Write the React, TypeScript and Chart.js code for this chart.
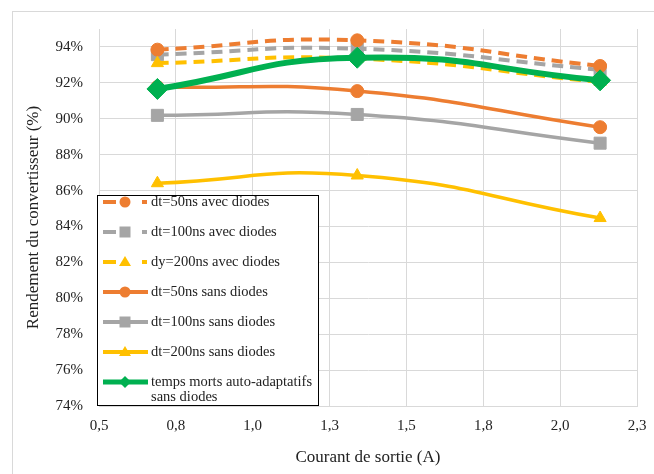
import React, { useEffect, useRef } from "react";
import { Chart, registerables } from "chart.js";

Chart.register(...registerables);

const currents = [0.69, 1.34, 2.13];
const dt50Avec = [93.85, 94.37, 92.94];
const dt100Avec = [93.57, 93.9, 92.73];
const dy200Avec = [93.1, 93.35, 92.05];
const dt50Sans = [91.77, 91.54, 89.53];
const dt100Sans = [90.19, 90.24, 88.64];
const dt200Sans = [86.41, 86.84, 84.47];
const autoAdapt = [91.66, 93.4, 92.14];

const yTicks = [74, 76, 78, 80, 82, 84, 86, 88, 90, 92, 94];
const xTicks = [0.5, 0.75, 1.0, 1.25, 1.5, 1.75, 2.0, 2.25];

const ORANGE = "#ED7D31";
const GRAY = "#A5A5A5";
const YELLOW = "#FFC000";
const GREEN = "#00B050";
const FONT = "'Liberation Serif', 'Times New Roman', serif";

type S = {
  label: string[];
  values: number[];
  color: string;
  dashed: boolean;
  style: string;
  radius: number;
  width: number;
  order: number;
};

const series: S[] = [
  { label: ["dt=50ns avec diodes"], values: dt50Avec, color: ORANGE, dashed: true, style: "circle", radius: 6.5, width: 4, order: 6 },
  { label: ["dt=100ns avec diodes"], values: dt100Avec, color: GRAY, dashed: true, style: "rect", radius: 8.5, width: 4, order: 7 },
  { label: ["dy=200ns avec diodes"], values: dy200Avec, color: YELLOW, dashed: true, style: "triangle", radius: 7, width: 4, order: 5 },
  { label: ["dt=50ns sans diodes"], values: dt50Sans, color: ORANGE, dashed: false, style: "circle", radius: 6.5, width: 3.5, order: 4 },
  { label: ["dt=100ns sans diodes"], values: dt100Sans, color: GRAY, dashed: false, style: "rect", radius: 8.5, width: 3.5, order: 3 },
  { label: ["dt=200ns sans diodes"], values: dt200Sans, color: YELLOW, dashed: false, style: "triangle", radius: 7, width: 3.5, order: 2 },
  { label: ["temps morts auto-adaptatifs", "sans diodes"], values: autoAdapt, color: GREEN, dashed: false, style: "rectRot", radius: 10.5, width: 6, order: 0 },
];

const legendPlugin = {
  id: "customLegend",
  afterDraw(chart: any) {
    const ctx = chart.ctx as CanvasRenderingContext2D;
    ctx.save();
    ctx.strokeStyle = "#d9d9d9";
    ctx.lineWidth = 1;
    ctx.strokeRect(12.5, 11.5, 700, 500);
    const bx = 97.5, by = 195.5, bw = 221, bh = 210;
    ctx.fillStyle = "#ffffff";
    ctx.fillRect(bx, by, bw, bh);
    ctx.strokeStyle = "#000000";
    ctx.lineWidth = 1;
    ctx.strokeRect(bx, by, bw, bh);
    ctx.font = `14.5px ${FONT}`;
    ctx.textBaseline = "middle";
    series.forEach((s, i) => {
      const y = 202 + i * 30;
      ctx.strokeStyle = s.color;
      ctx.fillStyle = s.color;
      ctx.lineWidth = s.dashed ? 4 : s.style === "rectRot" ? 5 : 4;
      ctx.lineCap = "butt";
      ctx.beginPath();
      if (s.dashed) {
        ctx.moveTo(103, y);
        ctx.lineTo(116, y);
        ctx.moveTo(142, y);
        ctx.lineTo(147, y);
      } else {
        ctx.moveTo(103, y);
        ctx.lineTo(148, y);
      }
      ctx.stroke();
      const mx = 125;
      ctx.beginPath();
      if (s.style === "circle") {
        ctx.arc(mx, y, 5.5, 0, Math.PI * 2);
      } else if (s.style === "rect") {
        ctx.rect(mx - 5.5, y - 5.5, 11, 11);
      } else if (s.style === "triangle") {
        ctx.moveTo(mx, y - 6);
        ctx.lineTo(mx + 6, y + 4);
        ctx.lineTo(mx - 6, y + 4);
        ctx.closePath();
      } else {
        ctx.moveTo(mx, y - 6);
        ctx.lineTo(mx + 6, y);
        ctx.lineTo(mx, y + 6);
        ctx.lineTo(mx - 6, y);
        ctx.closePath();
      }
      ctx.fill();
      ctx.fillStyle = "#222";
      s.label.forEach((t, k) => ctx.fillText(t, 151, y + k * 15));
    });
    ctx.restore();
  },
};

export default function App() {
  const ref = useRef<HTMLCanvasElement>(null);
  useEffect(() => {
    if (!ref.current) return;
    const chart = new Chart(ref.current, {
      type: "line",
      data: {
        datasets: series.map((s) => ({
          label: s.label.join(" "),
          data: currents.map((x, i) => ({ x, y: s.values[i] })),
          borderColor: s.color,
          backgroundColor: s.color,
          borderWidth: s.width,
          borderDash: s.dashed ? [11, 7] : [],
          pointStyle: s.style as any,
          pointRadius: s.radius,
          pointBorderWidth: 1,
          pointBackgroundColor: s.color,
          pointBorderColor: s.color,
          tension: 0.5,
          order: s.order,
          fill: false,
        })),
      },
      options: {
        animation: false,
        responsive: false,
        maintainAspectRatio: false,
        layout: { padding: { left: 0, top: 29, right: 17, bottom: 0 } },
        plugins: { legend: { display: false }, tooltip: { enabled: false } },
        scales: {
          x: {
            type: "linear",
            min: 0.5,
            max: 2.25,
            afterBuildTicks: (scale: any) => {
              scale.ticks = xTicks.map((v) => ({ value: v }));
            },
            afterFit: (scale: any) => {
              scale.height = 68;
            },
            grid: { color: "#d9d9d9", drawTicks: true, tickLength: 8, tickColor: "rgba(0,0,0,0)" },
            border: { color: "#d9d9d9" },
            ticks: {
              padding: 3,
              color: "#222",
              font: { family: FONT, size: 15 },
              callback: (v: any) => Number(v).toFixed(1).replace(".", ","),
            },
            title: {
              display: true,
              text: "Courant de sortie (A)",
              color: "#222",
              font: { family: FONT, size: 17 },
              padding: { top: 0, bottom: 6 },
            },
          },
          y: {
            type: "linear",
            min: 74,
            max: 95,
            afterBuildTicks: (scale: any) => {
              scale.ticks = yTicks.map((v) => ({ value: v }));
            },
            afterFit: (scale: any) => {
              scale.width = 99;
            },
            grid: { color: "#d9d9d9", drawTicks: false },
            border: { color: "#d9d9d9" },
            ticks: {
              padding: 16,
              color: "#222",
              font: { family: FONT, size: 15 },
              callback: (v: any) => `${v}%`,
            },
            title: {
              display: true,
              text: "Rendement du convertisseur (%)",
              color: "#222",
              font: { family: FONT, size: 17 },
              padding: { top: 23, bottom: 0 },
            },
          },
        },
      },
      plugins: [legendPlugin],
    });
    return () => chart.destroy();
  }, []);
  return (
    <div style={{ position: "fixed", left: 0, top: 0, width: 654, height: 474, background: "#fff" }}>
      <canvas ref={ref} width={654} height={474} style={{ width: 654, height: 474 }} />
    </div>
  );
}
